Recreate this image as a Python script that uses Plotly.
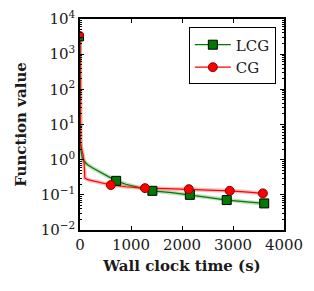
import plotly.graph_objects as go

# LCG curve (dense line) and its marker points
lcg_t = [0, 3, 10, 25, 45, 80, 150, 250, 400, 550, 709, 900, 1150, 1419, 1800, 2154, 2500, 2877, 3250, 3612]
lcg_v = [3000, 30, 3.0, 1.6, 1.1, 0.9, 0.72, 0.58, 0.44, 0.33, 0.25, 0.2, 0.16, 0.13, 0.115, 0.1, 0.085, 0.071, 0.063, 0.057]
lcg_mt = [709, 1419, 2154, 2877, 3612]
lcg_mv = [0.25, 0.13, 0.1, 0.071, 0.057]

# CG curve (dense line) and its marker points
cg_t = [0, 3, 10, 30, 60, 80, 95, 150, 300, 450, 605, 900, 1275, 1700, 2134, 2500, 2936, 3300, 3586]
cg_v = [3500, 12, 3.0, 2.0, 1.4, 0.8, 0.3, 0.27, 0.24, 0.21, 0.19, 0.17, 0.155, 0.15, 0.145, 0.14, 0.13, 0.12, 0.11]
cg_mt = [605, 1275, 2134, 2936, 3586]
cg_mv = [0.19, 0.155, 0.145, 0.13, 0.11]

x_ticks = [0, 1000, 2000, 3000, 4000]
y_exps = [-2, -1, 0, 1, 2, 3, 4]

GREEN = "#007a00"
RED = "#ff0000"
FONT = "DejaVu Serif"
TXT = "#1a1a1a"

fig = go.Figure()

# faint bands
fig.add_trace(go.Scatter(x=lcg_t, y=lcg_v, mode="lines", line=dict(color="rgba(0,122,0,0.25)", width=4),
                         showlegend=False, hoverinfo="skip"))
fig.add_trace(go.Scatter(x=cg_t, y=cg_v, mode="lines", line=dict(color="rgba(255,0,0,0.25)", width=4),
                         showlegend=False, hoverinfo="skip"))
# main lines
fig.add_trace(go.Scatter(x=lcg_t, y=lcg_v, mode="lines", line=dict(color=GREEN, width=1.2),
                         showlegend=False))
fig.add_trace(go.Scatter(x=cg_t, y=cg_v, mode="lines", line=dict(color=RED, width=1.2),
                         showlegend=False))
# markers
fig.add_trace(go.Scatter(x=lcg_mt, y=lcg_mv, mode="markers",
                         marker=dict(symbol="square", size=9, color=GREEN, line=dict(color="black", width=1)),
                         showlegend=False))
fig.add_trace(go.Scatter(x=cg_mt, y=cg_mv, mode="markers",
                         marker=dict(symbol="circle", size=9, color=RED, line=dict(color="#8b0000", width=1)),
                         showlegend=False))
# start points at x=0
fig.add_trace(go.Scatter(x=[lcg_t[0]], y=[lcg_v[0]], mode="markers",
                         marker=dict(symbol="square", size=7, color=GREEN, line=dict(color="black", width=1)),
                         showlegend=False))
fig.add_trace(go.Scatter(x=[cg_t[0]], y=[cg_v[0]], mode="markers",
                         marker=dict(symbol="circle", size=7, color=RED, line=dict(color="#8b0000", width=1)),
                         showlegend=False))
# legend entries
fig.add_trace(go.Scatter(x=[None], y=[None], mode="lines+markers", name="LCG",
                         line=dict(color=GREEN, width=1.2),
                         marker=dict(symbol="square", size=9, color=GREEN, line=dict(color="black", width=1))))
fig.add_trace(go.Scatter(x=[None], y=[None], mode="lines+markers", name="CG",
                         line=dict(color=RED, width=1.2),
                         marker=dict(symbol="circle", size=9, color=RED, line=dict(color="#8b0000", width=1))))

fig.update_layout(
    width=314, height=291,
    margin=dict(l=80, r=30, t=19, b=61, autoexpand=False),
    paper_bgcolor="white", plot_bgcolor="white",
    font=dict(family=FONT, size=15, color=TXT),
    legend=dict(x=0.96, y=0.96, xanchor="right", yanchor="top",
                bordercolor="black", borderwidth=1, bgcolor="white",
                font=dict(family=FONT, size=15, color=TXT), itemwidth=36, tracegroupgap=0),
)
fig.update_xaxes(
    range=[0, 4000], tickvals=x_ticks, ticktext=[str(v) for v in x_ticks],
    showline=True, linecolor="black", linewidth=1.5, mirror="allticks",
    ticks="inside", ticklen=4, tickcolor="black", showgrid=False, zeroline=False,
    automargin=False,
    title=dict(text="<b>Wall clock time (s)</b>", font=dict(family=FONT, size=15, color=TXT), standoff=8),
    tickfont=dict(family=FONT, size=15, color=TXT),
)
fig.update_yaxes(
    type="log", range=[-2, 4],
    tickvals=[10 ** e for e in y_exps],
    ticktext=["10<sup>%s</sup>" % (str(e).replace("-", "\u2212")) for e in y_exps],
    showline=True, linecolor="black", linewidth=1.5, mirror="allticks",
    ticks="inside", ticklen=4, tickcolor="black", showgrid=False, zeroline=False,
    minor=dict(ticks="inside", ticklen=2, tickcolor="black", dtick="D1", showgrid=False),
    automargin=False,
    title=dict(text="<b>Function value</b>", font=dict(family=FONT, size=15, color=TXT), standoff=10),
    tickfont=dict(family=FONT, size=15, color=TXT),
)

fig.write_html("out.html", config={"displayModeBar": False},
               post_script="document.body.style.margin='0px';")
